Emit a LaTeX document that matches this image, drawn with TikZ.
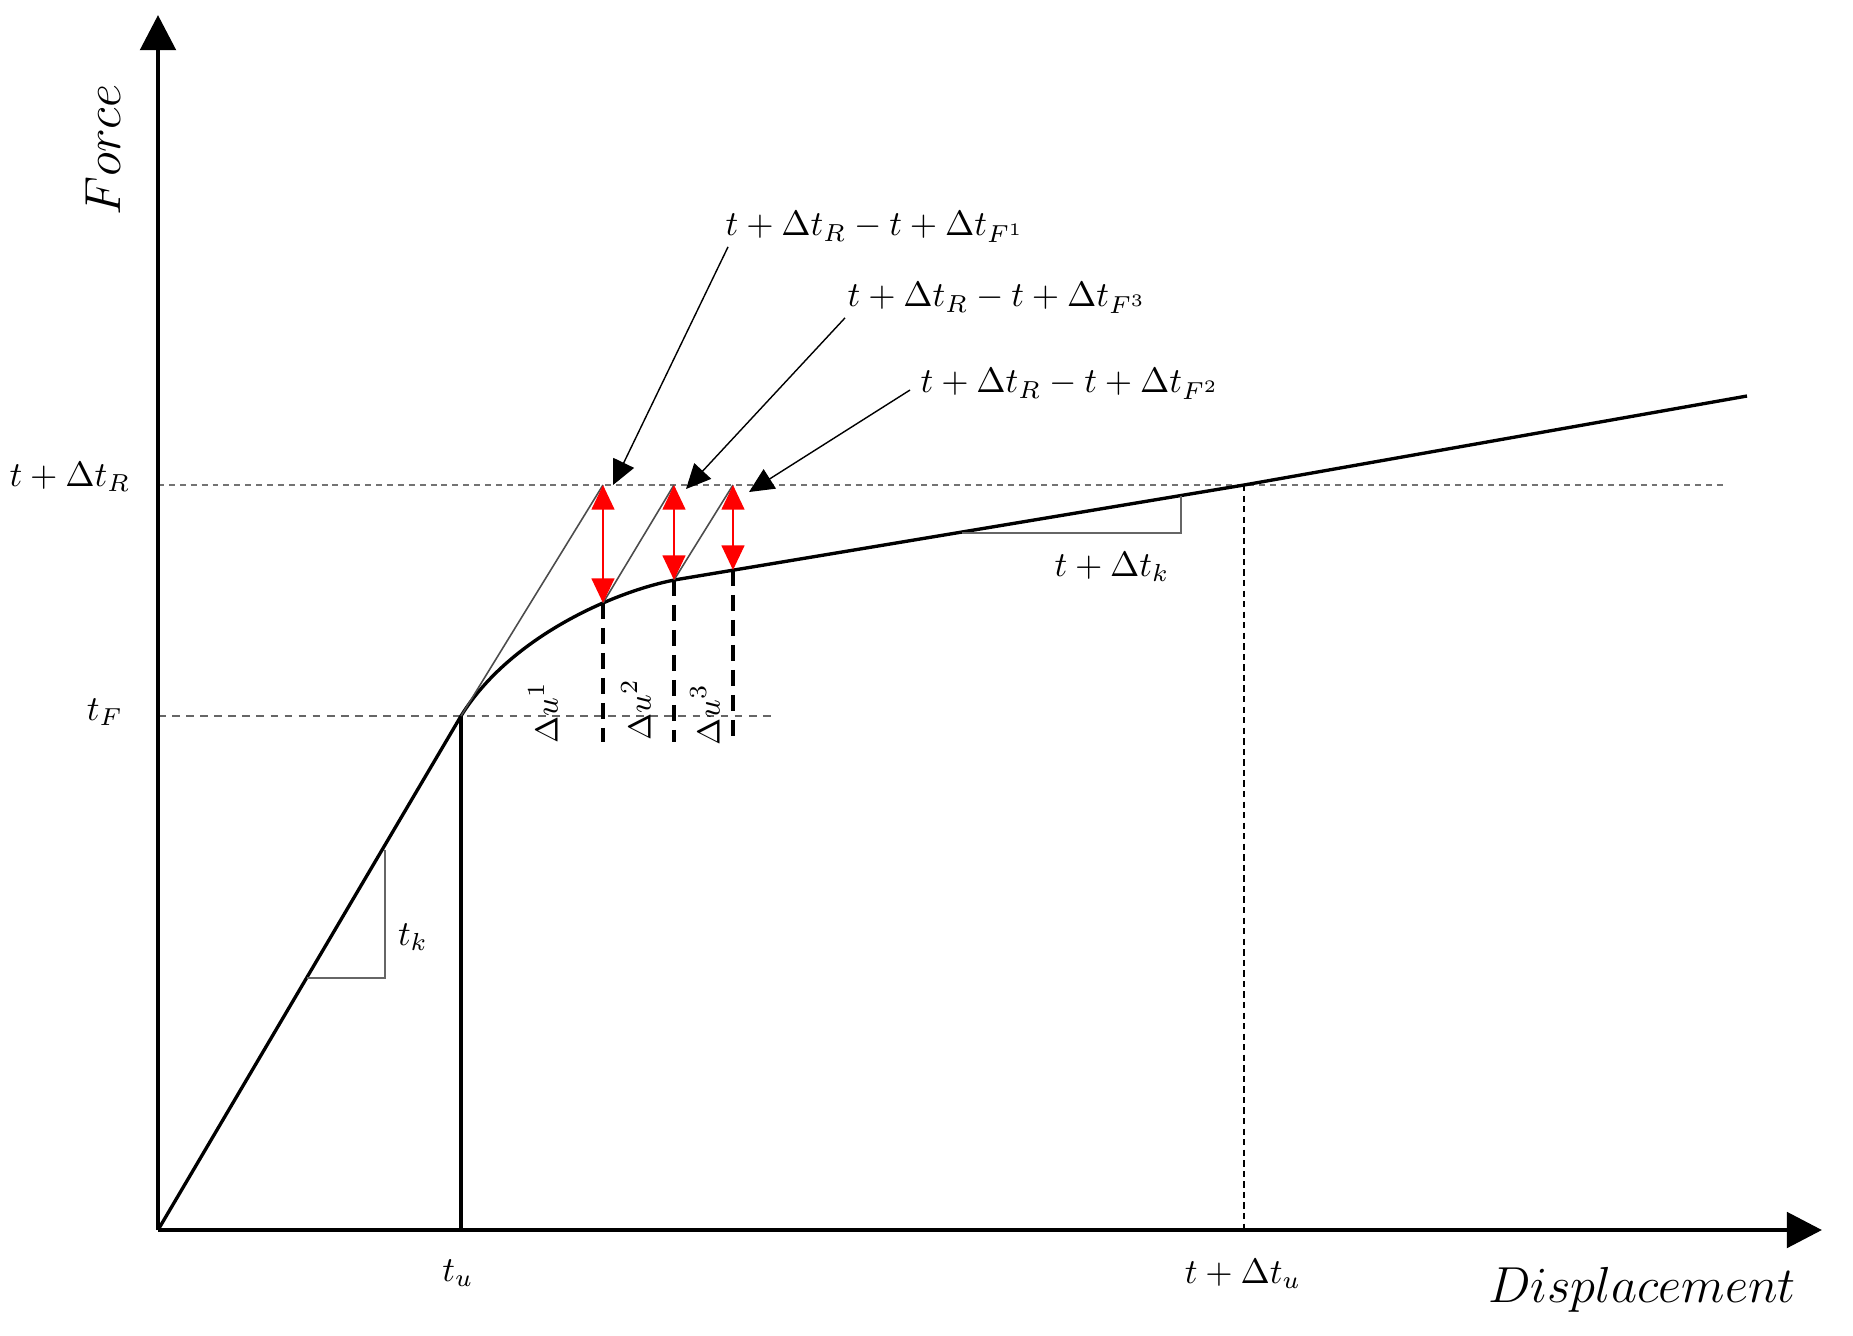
\documentclass[tikz,border=0pt]{standalone}
\usetikzlibrary{arrows.meta,calc}
\begin{document}
\begin{tikzpicture}[x=0.01cm,y=-0.01cm,
  axis/.style={line width=1.4pt,-{Triangle[length=10pt,width=10pt]}},
  mainline/.style={line width=0.95pt},
  tangent/.style={black!70,line width=0.45pt},
  guideR/.style={black!55,line width=0.4pt,dash pattern=on 1.7pt off 1.4pt},
  guideF/.style={black!60,line width=0.8pt,dash pattern=on 2.2pt off 1.8pt},
  vguide/.style={black,line width=0.4pt,dash pattern=on 1.8pt off 1.2pt},
  drop/.style={black,line width=1pt,dash pattern=on 4.5pt off 2.6pt},
  redarr/.style={red,line width=0.5pt,{Triangle[length=7pt,width=6.5pt]}-{Triangle[length=7pt,width=6.5pt]}},
  annot/.style={line width=0.4pt,-{Triangle[length=7pt,width=6.5pt]}},
  slopetri/.style={black!60,line width=0.6pt},
  lab/.style={font=\fontsize{10}{12}\selectfont,inner sep=0pt},
  smalllab/.style={font=\fontsize{9.3}{11}\selectfont,inner sep=0pt},
  axlab/.style={font=\fontsize{13.5}{16}\selectfont,inner sep=0pt}]
\useasboundingbox (0,0) rectangle (1853,1335);

% key coordinates
\coordinate (O) at (158,1230);
\coordinate (Ytop) at (158,15);
\coordinate (Xend) at (1822,1230);
\coordinate (K) at (461,716);
\coordinate (Kb) at (461,1230);
\coordinate (Q) at (680,579);
\coordinate (U) at (1244,485);
\coordinate (Ub) at (1244,1230);
\coordinate (E) at (1747,396);
\coordinate (p1) at (603,603);
\coordinate (p2) at (674,580);
\coordinate (p3) at (733,570);
\coordinate (t1) at (603,485);
\coordinate (t2) at (674,485);
\coordinate (t3) at (733,485);
\coordinate (d1) at (603,742);
\coordinate (d2) at (674,742);
\coordinate (d3) at (733,742);
\coordinate (gR0) at (158,485);
\coordinate (gR1) at (1725,485);
\coordinate (gF0) at (158,716);
\coordinate (gF1) at (776,716);

% guide lines
\draw[guideR] (gR0) -- (gR1);
\draw[guideF] (gF0) -- (gF1);
\draw[vguide] (U) -- (Ub);

% axes
\draw[axis] (O) -- (Ytop);
\draw[axis] (O) -- (Xend);

% curve
\draw[mainline] (O) -- (K) .. controls (511,635) and (620,589) .. (Q) -- (U) -- (E);
\draw[line width=1.2pt] (K) -- (Kb);

% tangent lines
\draw[tangent] (K) -- (t1);
\draw[tangent] (p1) -- (t2);
\draw[tangent] (p2) -- (t3);

% drops
\draw[drop] (p1) -- (d1);
\draw[drop] (p2) -- (d2);
\draw[drop] (p3) -- (d3);

% red arrows
\draw[redarr] (p1) -- (t1);
\draw[redarr] (p2) -- (t2);
\draw[redarr] (p3) -- (t3);

% slope triangles
\coordinate (k1) at (307,978);
\coordinate (k2) at (385,978);
\coordinate (k3) at (385,850);
\draw[slopetri] (k1) -- (k2) -- (k3);
\coordinate (m1) at (962,533);
\coordinate (m2) at (1181,533);
\coordinate (m3) at (1181,496);
\draw[slopetri] (m1) -- (m2) -- (m3);

% labels
\node[lab] (L1) at (875,227) {$t+\Delta t_R-t+\Delta t_{F^1}$};
\node[lab] (L2) at (997,298) {$t+\Delta t_R-t+\Delta t_{F^3}$};
\node[lab] (L3) at (1070,384) {$t+\Delta t_R-t+\Delta t_{F^2}$};
\node[lab] (LR) at (70,477) {$t+\Delta t_R$};
\node[lab] (LF) at (105,712) {$t_F$};
\node[lab] (Lu) at (458,1273) {$t_u$};
\node[lab] (Ldu) at (1243,1274) {$t+\Delta t_u$};
\node[lab] (Lk) at (413,937) {$t_k$};
\node[lab] (Ldk) at (1112,567) {$t+\Delta t_k$};
\node[smalllab,rotate=90] (D1) at (543,713) {$\Delta u^1$};
\node[smalllab,rotate=90] (D2) at (636,710) {$\Delta u^2$};
\node[smalllab,rotate=90] (D3) at (705,715) {$\Delta u^3$};
\node[axlab,rotate=90] (LFo) at (103,150) {$Force$};
\node[axlab] (LDi) at (1642,1290) {$Displacement$};

% annotation arrows
\draw[annot] ($(L1.south west)+(3,4)$) -- ($(t1)+(10,0)$);
\draw[annot] ($(L2.south west)+(-2,4)$) -- ($(t2)+(12,4)$);
\draw[annot] ($(L3.west)+(-10,6)$) -- ($(t3)+(16,7)$);
\end{tikzpicture}
\end{document}
